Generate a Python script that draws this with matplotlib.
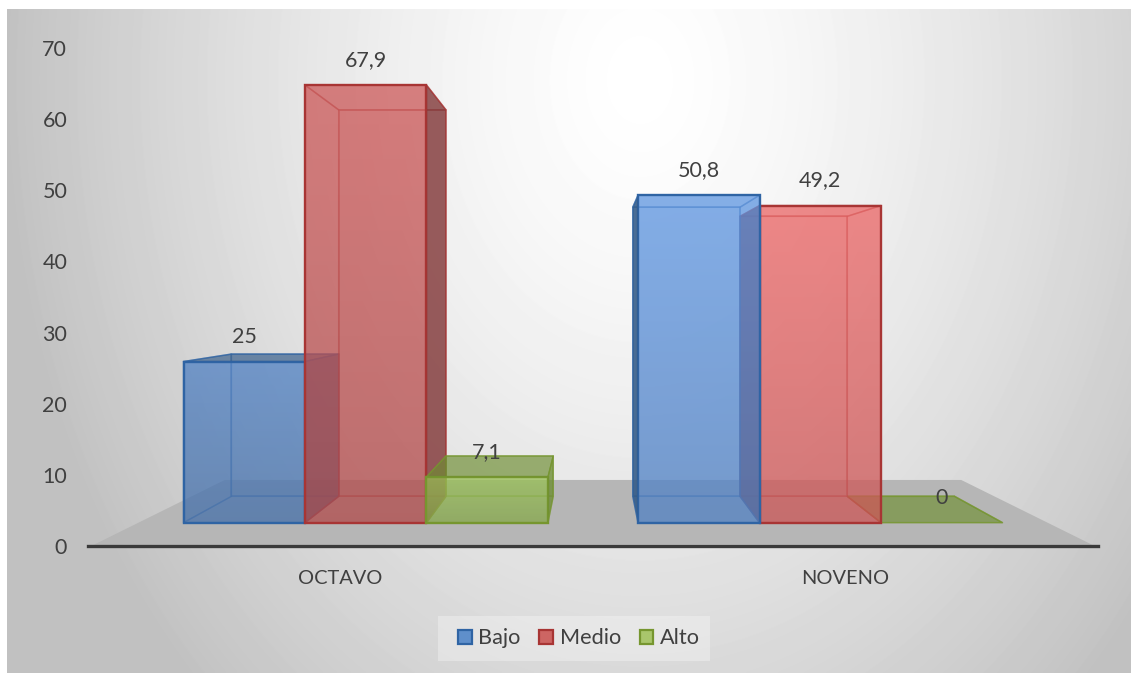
import numpy as np
import matplotlib
matplotlib.use('Agg')
import matplotlib.pyplot as plt
from matplotlib.colors import to_rgb, to_rgba
from matplotlib.patches import Patch, Polygon, Rectangle

categories = ['OCTAVO', 'NOVENO']
bajo = [25, 50.8]
medio = [67.9, 49.2]
alto = [7.1, 0]
series_names = ['Bajo', 'Medio', 'Alto']
y_ticks = [0, 10, 20, 30, 40, 50, 60, 70]

W, H = 1131, 673
TEXT = '#404040'
FONT = 'Lato'

# fill, outer side colour, edge colour, legend colour per series
fills = ['#5d95e1', '#eb6464', '#b0de62']
darks = ['#2f5784', '#7a2f30', '#6b8a30']
edges = ['#2f64a4', '#a83534', '#76962f']
swatches = ['#5f8fcb', '#cd6563', '#a9c66c']
# first group is drawn a little darker in the original
cat_shade = [0.87, 1.0]

# perspective of the fake 3d box, depth given as scale towards the vanishing point
VX, VY = 0.5, 34.9
S_FRONT, S_BACK, S_FLOOR = 0.906, 0.80, 0.734
X_SQUEEZE = 0.9934
BAR_W = 0.2673


def proj(x, v, s):
    return (VX + X_SQUEEZE * s * (x - VX), VY + s * (v - VY))


def draw_bar(ax, x0, x1, v, color, dark, edge, z, shade):
    fl, fr = x0, x1
    f_bl, f_br = proj(fl, 0, S_FRONT), proj(fr, 0, S_FRONT)
    f_tl, f_tr = proj(fl, v, S_FRONT), proj(fr, v, S_FRONT)
    b_bl, b_br = proj(fl, 0, S_BACK), proj(fr, 0, S_BACK)
    b_tl, b_tr = proj(fl, v, S_BACK), proj(fr, v, S_BACK)

    base = np.array(to_rgb(color)) * shade

    def face(pts, c, a, lw, ea=0.75):
        ax.add_patch(Polygon(pts, closed=True, facecolor=to_rgba(c, a),
                             edgecolor=to_rgba(edge, ea), lw=lw,
                             joinstyle='round', zorder=z, clip_on=False))

    left = [f_bl, b_bl, b_tl, f_tl]
    right = [f_br, b_br, b_tr, f_tr]
    top = [f_tl, f_tr, b_tr, b_tl]

    # inner faces first, seen through the front
    face([b_bl, b_br, b_tr, b_tl], tuple(base), 0.14, 1.3, 0.4)
    face([f_bl, f_br, b_br, b_bl], tuple(base), 0.10, 1.0, 0.3)
    left_out = b_bl[0] < f_bl[0]
    right_out = b_br[0] > f_br[0]
    top_out = b_tl[1] > f_tl[1]
    if not left_out:
        face(left, tuple(base), 0.10, 1.1, 0.4)
    if not right_out:
        face(right, tuple(base), 0.10, 1.1, 0.4)
    if not top_out:
        face(top, tuple(base), 0.08, 1.1, 0.45)

    if v > 0:
        # front face, lighter at the top
        grad = np.zeros((64, 2, 4))
        k = np.linspace(1.0, 0.86, 64)[:, None, None]
        grad[..., :3] = np.clip(base[None, None, :] * k, 0, 1)
        grad[..., 3] = 0.72
        im = ax.imshow(grad, extent=(f_bl[0], f_br[0], f_bl[1], f_tl[1]), origin='upper',
                       aspect='auto', interpolation='bilinear', zorder=z)
        im.set_clip_on(False)
        ax.add_patch(Polygon([f_bl, f_br, f_tr, f_tl], closed=True, facecolor='none',
                             edgecolor=edge, lw=1.7, zorder=z, clip_on=False))

    # sides facing the viewer from outside are darker
    if left_out:
        face(left, dark, 0.85, 1.0)
    if right_out:
        face(right, dark, 0.75, 1.0)
    if top_out:
        face(top, dark, 0.62, 1.0)


plt.rcParams['font.family'] = [FONT, 'DejaVu Sans']

fig = plt.figure(figsize=(W / 100, H / 100), dpi=100, facecolor='white')

# background panel with soft radial shading
bg = fig.add_axes([7 / W, 0, 1 - 7 / W, 1 - 9 / H])
yy, xx = np.mgrid[9:H, 7:W]
r = np.sqrt(((xx - 640) / 640.0) ** 2 + ((yy - 80) / 850.0) ** 2)
bg.imshow(255 - 62 * np.clip(r, 0, 1) ** 1.4, cmap='gray', vmin=0, vmax=255, aspect='auto',
          interpolation='bilinear')
bg.axis('off')

ax_l, ax_r, ax_t, ax_b = 88, 1098, 48, 546
ax = fig.add_axes([ax_l / W, 1 - ax_b / H, (ax_r - ax_l) / W, (ax_b - ax_t) / H])
ax.patch.set_alpha(0)

# floor
ax.add_patch(Polygon([proj(-0.5, 0, 0.995), proj(1.5, 0, 0.995), proj(1.5, 0, S_FLOOR), proj(-0.5, 0, S_FLOOR)],
                     closed=True, facecolor='#b6b6b6', edgecolor='none', zorder=1))

values = [bajo, medio, alto]
for i in range(len(categories)):
    order = [0, 1, 2] if i == 0 else [2, 1, 0]
    for n, j in enumerate(order):
        x0 = i - 1.5 * BAR_W + j * BAR_W
        v = values[j][i]
        draw_bar(ax, x0, x0 + BAR_W, v, fills[j], darks[j], edges[j], 2 + n, cat_shade[i])
        lx, ly = proj(x0 + BAR_W / 2, v, S_FRONT)
        label = str(v).replace('.', ',')
        ax.annotate(label, xy=(lx, ly), xytext=(0, 25 * 0.72), textcoords='offset points',
                    ha='center', va='center', fontsize=15.5, color=TEXT, zorder=10)

ax.set_xlim(-0.5, 1.5)
ax.set_ylim(0, 70)
ax.set_yticks(y_ticks)
ax.set_xticks(range(len(categories)))
ax.set_xticklabels(categories)
ax.tick_params(axis='y', length=0, pad=15, labelsize=15.5, labelcolor=TEXT)
ax.tick_params(axis='x', length=0, pad=17, labelsize=14.4, labelcolor=TEXT)
for s in ['top', 'left', 'right']:
    ax.spines[s].set_visible(False)
ax.spines['bottom'].set_color('#3a3a3a')
ax.spines['bottom'].set_linewidth(2.4)
ax.spines['bottom'].set_zorder(9)

fig.add_artist(Rectangle((438 / W, 1 - 661 / H), 272 / W, 45 / H, transform=fig.transFigure,
                         facecolor='white', alpha=0.3, edgecolor='none'))
handles = [Patch(facecolor=swatches[k], edgecolor=edges[k], lw=1.6) for k in range(3)]
leg = fig.legend(handles, series_names, ncol=3, loc='center',
                 bbox_to_anchor=(579 / W, 1 - 638.5 / H), fontsize=15.6, frameon=False,
                 handlelength=0.64, handleheight=0.64, handletextpad=0.3, columnspacing=0.86,
                 borderpad=0, borderaxespad=0)
for t in leg.get_texts():
    t.set_color(TEXT)

plt.savefig('out.png', dpi=100)
